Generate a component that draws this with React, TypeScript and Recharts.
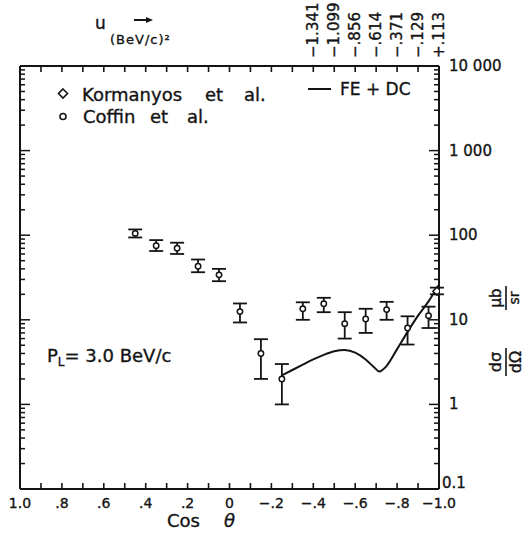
import React from 'react'
import { ComposedChart, XAxis, YAxis, Scatter, Line, ErrorBar } from 'recharts'

// Coffin et al. — cos(theta), dσ/dΩ (μb/sr), lower / upper error limits
const coffinCos = [0.45, 0.35, 0.25, 0.15, 0.05, -0.05, -0.15, -0.25, -0.35, -0.45, -0.55, -0.65, -0.75, -0.85, -0.95]
const coffinVal = [105, 75, 70, 43, 34, 12.5, 4.0, 2.0, 13.5, 15.5, 9, 10.2, 13.2, 8, 11.2]
const coffinLo = [94, 65, 60, 36.5, 28.6, 9.3, 2.0, 1.0, 10, 12.3, 6.0, 7.0, 10, 5.1, 8.0]
const coffinHi = [117, 87.5, 81.5, 51.6, 40, 15.6, 5.9, 3.0, 16.1, 18.2, 12.3, 13.5, 16.3, 11, 14.3]

// Kormanyos et al.
const kormCos = [-0.99]
const kormVal = [21.8]
const kormLo = [20]
const kormHi = [24]

// FE + DC prediction
const curveCos = [-0.25, -0.3, -0.35, -0.4, -0.45, -0.5, -0.55, -0.6, -0.65, -0.69, -0.715, -0.75, -0.8, -0.85, -0.9, -0.95, -1.0]
const curveVal = [2.2, 2.55, 2.95, 3.4, 3.85, 4.25, 4.4, 4.1, 3.4, 2.75, 2.45, 2.85, 4.5, 7.2, 11.2, 16.5, 26]

// axis ticks
const cosTicks = [1.0, 0.9, 0.8, 0.7, 0.6, 0.5, 0.4, 0.3, 0.2, 0.1, 0, -0.1, -0.2, -0.3, -0.4, -0.5, -0.6, -0.7, -0.8, -0.9, -1.0]
const cosLabelVals = [1.0, 0.8, 0.6, 0.4, 0.2, 0, -0.2, -0.4, -0.6, -0.8, -1.0]
const cosLabelText = ['1.0', '.8', '.6', '.4', '.2', '0', '\u2212.2', '\u2212.4', '\u2212.6', '\u2212.8', '\u22121.0']
const uCos = [-0.4, -0.5, -0.6, -0.7, -0.8, -0.9, -1.0]
const uLabels = ['\u22121.341', '\u22121.099', '\u2212.856', '\u2212.614', '\u2212.371', '\u2212.129', '+.113']
const decades = [0.1, 1, 10, 100, 1000, 10000]
const decadeLabels = ['0.1', '1', '10', '100', '1 000', '10 000']

const logTicks = decades.flatMap((d, i) =>
  i < decades.length - 1 ? [d, d * 2, d * 3, d * 4, d * 5, d * 6, d * 7, d * 8, d * 9] : [d]
)

const toPoints = (xs: number[], ys: number[], lo: number[], hi: number[]) =>
  xs.map((x, i) => ({ x, y: ys[i], err: [ys[i] - lo[i], hi[i] - ys[i]] }))

const coffin = toPoints(coffinCos, coffinVal, coffinLo, coffinHi)
const korm = toPoints(kormCos, kormVal, kormLo, kormHi)
const curve = curveCos.map((x, i) => ({ x, y: curveVal[i] }))

const INK = '#141414'
const FONT = '"DejaVu Sans", sans-serif'
// slightly heavier lettering
const txt = { fontFamily: FONT, fill: INK, stroke: INK, strokeWidth: 0.35 }

const near = (a: number, b: number) => Math.abs(a - b) < 1e-6
const decadeIndex = (v: number) => decades.findIndex(d => Math.abs(v - d) / d < 1e-6)

const BottomTick = (p: any) => {
  const v = p.payload.value
  const i = cosLabelVals.findIndex(c => near(c, v))
  return (
    <g>
      <line x1={p.x} x2={p.x} y1={p.y} y2={p.y - 6} stroke={INK} strokeWidth={1.6} />
      {i >= 0 && (
        <text x={p.x} y={p.y + 19} textAnchor="middle" fontSize={14} {...txt}>
          {cosLabelText[i]}
        </text>
      )}
    </g>
  )
}

const TopTick = (p: any) => {
  const v = p.payload.value
  const i = uCos.findIndex(c => near(c, v))
  return (
    <g>
      <line x1={p.x} x2={p.x} y1={p.y} y2={p.y + 6} stroke={INK} strokeWidth={1.6} />
      {i >= 0 && (
        <text transform={`translate(${p.x + 5},${p.y - 8}) rotate(-90)`} fontSize={15} {...txt}>
          {uLabels[i]}
        </text>
      )}
    </g>
  )
}

const RightTick = (p: any) => {
  const i = decadeIndex(p.payload.value)
  return (
    <g>
      <line x1={p.x} x2={p.x - (i >= 0 ? 10 : 5)} y1={p.y} y2={p.y} stroke={INK} strokeWidth={1.5} />
      {i >= 0 && (
        <text x={p.x + (i === 0 ? 3 : 10)} y={p.y + (i === 0 ? -1 : 5)} fontSize={15} {...txt}>
          {decadeLabels[i]}
        </text>
      )}
    </g>
  )
}

const LeftTick = (p: any) => {
  const major = decadeIndex(p.payload.value) >= 0
  return <line x1={p.x} x2={p.x + (major ? 10 : 5)} y1={p.y} y2={p.y} stroke={INK} strokeWidth={1.5} />
}

const OpenCircle = (p: any) => (
  <circle cx={p.cx} cy={p.cy} r={2.7} fill="#fff" stroke={INK} strokeWidth={1.5} />
)

const Diamond = (p: any) => (
  <path
    d={`M${p.cx},${p.cy - 4} L${p.cx + 4},${p.cy} L${p.cx},${p.cy + 4} L${p.cx - 4},${p.cy} Z`}
    fill="#fff"
    stroke={INK}
    strokeWidth={1.5}
  />
)

function Labels() {
  return (
    <svg width={529} height={539} style={{ position: 'absolute', left: 0, top: 0, pointerEvents: 'none' }}>
      {/* u axis caption */}
      <text x={95} y={29} fontSize={17} {...txt}>u</text>
      <line x1={134} x2={148} y1={20} y2={20} stroke={INK} strokeWidth={2} />
      <path d="M146,17 L153,20 L146,23 Z" fill={INK} />
      <text x={110} y={44} fontSize={13} letterSpacing={1} {...txt}>(BeV/c)²</text>

      {/* legend */}
      <path d="M63,89 L67.5,93.5 L63,98 L58.5,93.5 Z" fill="#fff" stroke={INK} strokeWidth={1.6} />
      <text y={101} fontSize={18} {...txt}>
        <tspan x={82}>Kormanyos</tspan>
        <tspan x={205}>et</tspan>
        <tspan x={244}>al.</tspan>
      </text>
      <circle cx={63} cy={116.5} r={3} fill="#fff" stroke={INK} strokeWidth={1.6} />
      <text y={123} fontSize={18} {...txt}>
        <tspan x={83}>Coffin</tspan>
        <tspan x={150}>et</tspan>
        <tspan x={187}>al.</tspan>
      </text>
      <line x1={308} x2={331} y1={89} y2={89} stroke={INK} strokeWidth={2} />
      <text x={340} y={95} fontSize={17} {...txt}>FE + DC</text>

      {/* beam momentum */}
      <text x={47} y={362} fontSize={18} {...txt}>
        P<tspan fontSize={12} dy={4}>L</tspan>
        <tspan dy={-4}>= 3.0 BeV/c</tspan>
      </text>

      {/* y caption, read bottom to top */}
      <g transform="translate(506,298) rotate(-90)">
        <text x={0} y={-5} fontSize={15} textAnchor="middle" {...txt}>μb</text>
        <line x1={-12} x2={12} y1={0} y2={0} stroke={INK} strokeWidth={1.6} />
        <text x={0} y={13} fontSize={14} textAnchor="middle" {...txt}>sr</text>
      </g>
      <g transform="translate(506,362) rotate(-90)">
        <text x={0} y={-5} fontSize={16} textAnchor="middle" {...txt}>dσ</text>
        <line x1={-14} x2={14} y1={0} y2={0} stroke={INK} strokeWidth={1.6} />
        <text x={0} y={15} fontSize={16} textAnchor="middle" {...txt}>dΩ</text>
      </g>

      {/* x caption */}
      <text x={167} y={527} fontSize={18} {...txt}>Cos</text>
      <text x={224} y={527} fontSize={18} fontStyle="italic" {...txt}>θ</text>
    </svg>
  )
}

export default function App() {
  return (
    <div style={{ position: 'absolute', left: 0, top: 0, width: 529, height: 539, background: '#fff' }}>
      <ComposedChart width={529} height={539} margin={{ top: 65, right: 89, bottom: 49, left: 19 }}>
        <XAxis
          xAxisId="b"
          type="number"
          dataKey="x"
          domain={[-1, 1]}
          reversed
          allowDataOverflow
          ticks={cosTicks}
          interval={0}
          height={1}
          tickSize={0}
          tickMargin={0}
          tickLine={false}
          axisLine={{ stroke: INK, strokeWidth: 2 }}
          tick={BottomTick}
        />
        <XAxis
          xAxisId="t"
          orientation="top"
          type="number"
          dataKey="x"
          domain={[-1, 1]}
          reversed
          allowDataOverflow
          ticks={cosTicks}
          interval={0}
          height={1}
          tickSize={0}
          tickMargin={0}
          tickLine={false}
          axisLine={{ stroke: INK, strokeWidth: 2 }}
          tick={TopTick}
        />
        <YAxis
          yAxisId="r"
          orientation="right"
          type="number"
          dataKey="y"
          scale="log"
          domain={[0.1, 10000]}
          allowDataOverflow
          ticks={logTicks}
          interval={0}
          width={1}
          tickSize={0}
          tickMargin={0}
          tickLine={false}
          axisLine={{ stroke: INK, strokeWidth: 2 }}
          tick={RightTick}
        />
        <YAxis
          yAxisId="l"
          orientation="left"
          type="number"
          dataKey="y"
          scale="log"
          domain={[0.1, 10000]}
          allowDataOverflow
          ticks={logTicks}
          interval={0}
          width={1}
          tickSize={0}
          tickMargin={0}
          tickLine={false}
          axisLine={{ stroke: INK, strokeWidth: 2 }}
          tick={LeftTick}
        />
        <Line
          xAxisId="b"
          yAxisId="r"
          data={curve}
          dataKey="y"
          type="monotone"
          stroke={INK}
          strokeWidth={2}
          dot={false}
          isAnimationActive={false}
        />
        <Scatter xAxisId="b" yAxisId="r" data={coffin} dataKey="y" shape={OpenCircle} isAnimationActive={false}>
          <ErrorBar dataKey="err" direction="y" width={7} stroke={INK} strokeWidth={1.8} isAnimationActive={false} />
        </Scatter>
        <Scatter xAxisId="b" yAxisId="r" data={korm} dataKey="y" shape={Diamond} isAnimationActive={false}>
          <ErrorBar dataKey="err" direction="y" width={7} stroke={INK} strokeWidth={1.8} isAnimationActive={false} />
        </Scatter>
      </ComposedChart>
      <Labels />
    </div>
  )
}
